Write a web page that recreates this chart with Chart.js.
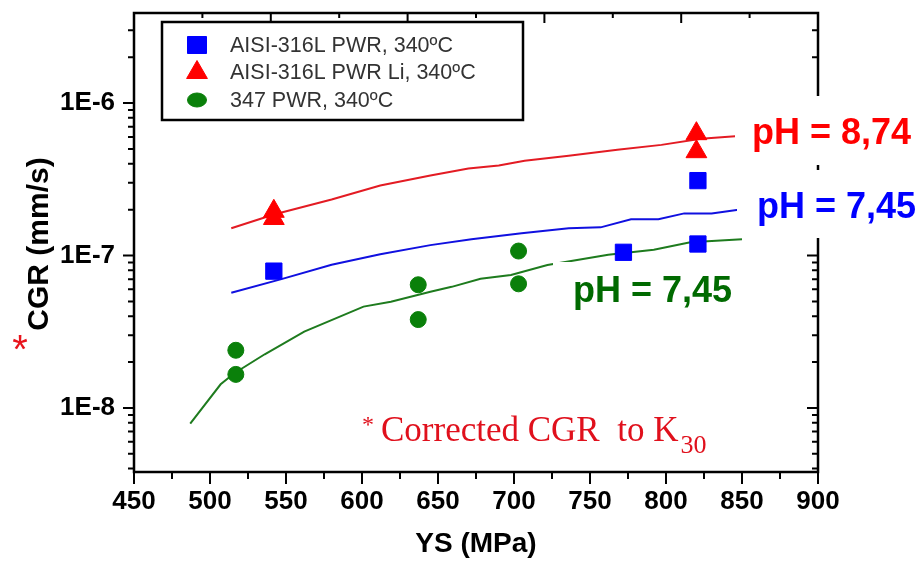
<!DOCTYPE html>
<html>
<head>
<meta charset="utf-8">
<script src="https://cdn.jsdelivr.net/npm/chart.js@4.4.1/dist/chart.umd.min.js"></script>
<style>
  html, body { margin: 0; padding: 0; background: #fff; }
  #wrap { width: 923px; height: 561px; }
</style>
</head>
<body>
<div id="wrap"><canvas id="chart" width="923" height="561"></canvas></div>
<script>
// fitted curves: YS (MPa) vs corrected CGR (mm/s)
const redLineX = [514, 542, 580, 612, 645, 670, 690, 707, 736, 768, 797, 823, 850];
const redLineY = [1.51e-7, 1.86e-7, 2.33e-7, 2.88e-7, 3.35e-7, 3.72e-7, 3.89e-7, 4.19e-7, 4.52e-7, 4.94e-7, 5.32e-7, 5.83e-7, 6.1e-7];

const blueLineX = [514, 547, 580, 612, 645, 672, 705, 736, 757, 777, 795, 812, 830, 850];
const blueLineY = [5.7e-8, 7.0e-8, 8.7e-8, 1.02e-7, 1.17e-7, 1.28e-7, 1.4e-7, 1.51e-7, 1.53e-7, 1.73e-7, 1.73e-7, 1.89e-7, 1.89e-7, 2.01e-7];

const greenLineX = [487, 507, 516, 536, 562, 601, 619, 645, 659, 678, 698, 722, 762, 792, 816, 850];
const greenLineY = [7.9e-9, 1.43e-8, 1.69e-8, 2.25e-8, 3.17e-8, 4.62e-8, 4.98e-8, 5.78e-8, 6.23e-8, 7.03e-8, 7.46e-8, 8.67e-8, 1.01e-7, 1.09e-7, 1.22e-7, 1.28e-7];

// measured points
const squareX = [542, 772, 821, 821];
const squareY = [7.9e-8, 1.05e-7, 1.19e-7, 3.1e-7];
const triangleX = [542, 542, 820, 820];
const triangleY = [1.95e-7, 1.75e-7, 6.3e-7, 4.8e-7];
const circleX = [517, 517, 637, 637, 703, 703];
const circleY = [2.39e-8, 1.66e-8, 6.43e-8, 3.8e-8, 1.07e-7, 6.52e-8];

const seriesNames = ["AISI-316L PWR, 340ºC", "AISI-316L PWR Li, 340ºC", "347 PWR, 340ºC"];
const yTickValues = [1e-8, 1e-7, 1e-6];
const topTickStep = 45;

const toPoints = (xs, ys) => xs.map((x, i) => ({ x: x, y: ys[i] }));
const FONT = "'Liberation Sans', Arial, sans-serif";
const SERIF = "'Liberation Serif', 'Times New Roman', serif";

Chart.defaults.font.family = FONT;
Chart.defaults.color = "#000";

const frame = {
  id: "frame",
  beforeDatasetsDraw(chart) {
    const { ctx, chartArea: a, scales: { x, y } } = chart;
    ctx.save();
    ctx.strokeStyle = "#000";
    ctx.lineWidth = 2.5;
    ctx.strokeRect(a.left, a.top, a.right - a.left, a.bottom - a.top);
    ctx.lineWidth = 2;
    ctx.beginPath();
    for (let v = 450; v <= 900; v += 25) {
      const px = x.getPixelForValue(v);
      const len = v % 50 === 0 ? 12 : 7;
      ctx.moveTo(px, a.bottom);
      ctx.lineTo(px, a.bottom + len);
    }
    for (let k = 1; k < 10; k++) {
      const px = x.getPixelForValue(450 + k * topTickStep);
      const len = k % 2 === 0 ? 10 : 5;
      ctx.moveTo(px, a.top);
      ctx.lineTo(px, a.top + len);
    }
    for (let e = -9; e <= -6; e++) {
      for (let m = 1; m <= 9; m++) {
        const v = m * Math.pow(10, e);
        if (v < y.min || v > y.max) continue;
        const py = y.getPixelForValue(v);
        const len = m === 1 ? 11 : 6;
        ctx.moveTo(a.left, py);
        ctx.lineTo(a.left - len, py);
        ctx.moveTo(a.right, py);
        ctx.lineTo(a.right - len, py);
      }
    }
    ctx.stroke();

    // axis title on the left, with the red asterisk
    ctx.fillStyle = "#000";
    ctx.font = "bold 30px " + FONT;
    ctx.textAlign = "center";
    ctx.textBaseline = "middle";
    ctx.translate(40, 244);
    ctx.rotate(-Math.PI / 2);
    ctx.fillText("CGR (mm/s)", 0, 0);
    ctx.setTransform(1, 0, 0, 1, 0, 0);
    ctx.fillStyle = "#e8141c";
    ctx.font = "40px " + FONT;
    ctx.fillText("*", 20, 352);

    // corrected note
    ctx.fillStyle = "#e0101c";
    ctx.textAlign = "left";
    ctx.textBaseline = "alphabetic";
    ctx.font = "24px " + SERIF;
    ctx.fillText("*", 362, 432);
    ctx.font = "35px " + SERIF;
    const note = "Corrected CGR  to K";
    ctx.fillText(note, 381, 441);
    const w = ctx.measureText(note).width;
    ctx.font = "26px " + SERIF;
    ctx.fillText("30", 381 + w + 2, 453);
    ctx.restore();
  },
  afterDatasetsDraw(chart) {
    const { ctx } = chart;
    ctx.save();
    const labels = [
      { text: "pH = 8,74", color: "#ff0000", box: [735, 96, 188, 69], x: 752, y: 134 },
      { text: "pH = 7,45", color: "#0000ff", box: [737, 170, 186, 68], x: 757, y: 208 },
      { text: "pH = 7,45", color: "#006a00", box: [553, 262, 187, 58], x: 573, y: 292 }
    ];
    labels.forEach((l) => {
      ctx.fillStyle = "#fff";
      ctx.fillRect(l.box[0], l.box[1], l.box[2], l.box[3]);
      ctx.fillStyle = l.color;
      ctx.font = "bold 36px " + FONT;
      ctx.textAlign = "left";
      ctx.textBaseline = "middle";
      ctx.fillText(l.text, l.x, l.y);
    });

    // legend box
    ctx.fillStyle = "#fff";
    ctx.fillRect(162, 22, 361, 98);
    ctx.strokeStyle = "#000";
    ctx.lineWidth = 2.5;
    ctx.strokeRect(162, 22, 361, 98);
    const marks = chart.data.datasets.filter((d) => d.isMarker);
    marks.forEach((d, i) => {
      const yy = 45 + i * 27.5;
      ctx.fillStyle = d.backgroundColor;
      ctx.strokeStyle = d.backgroundColor;
      ctx.lineWidth = 1;
      const opts = { pointStyle: d.pointStyle, radius: d.pointStyle === "circle" ? 7 : 12, rotation: 0, borderWidth: 1 };
      Chart.helpers.drawPointLegend(ctx, opts, 197, yy, d.pointStyle === "triangle" ? 0 : 19);
      ctx.fillStyle = "#333";
      ctx.font = "21.5px " + FONT;
      ctx.textAlign = "left";
      ctx.textBaseline = "middle";
      ctx.fillText(d.label, 230, yy + 1);
    });
    ctx.restore();
  }
};

const lineSet = (xs, ys, color) => ({
  data: toPoints(xs, ys),
  showLine: true,
  borderColor: color,
  borderWidth: 2,
  pointRadius: 0,
  fill: false,
  order: 2
});

const markSet = (label, xs, ys, color, style, r) => ({
  label: label,
  isMarker: true,
  data: toPoints(xs, ys),
  showLine: false,
  pointStyle: style,
  pointRadius: r,
  backgroundColor: color,
  borderColor: color,
  borderWidth: 1,
  order: 1
});

new Chart(document.getElementById("chart"), {
  type: "scatter",
  data: {
    datasets: [
      markSet(seriesNames[0], squareX, squareY, "#0000ff", "rect", 11.5),
      markSet(seriesNames[1], triangleX, triangleY, "#ff0000", "triangle", 12),
      markSet(seriesNames[2], circleX, circleY, "#0a800a", "circle", 8),
      lineSet(redLineX, redLineY, "#e31b23"),
      lineSet(blueLineX, blueLineY, "#1010e0"),
      lineSet(greenLineX, greenLineY, "#1e7b1e")
    ]
  },
  options: {
    responsive: false,
    animation: false,
    devicePixelRatio: 1,
    layout: { padding: { top: 10, right: 105, left: 0, bottom: 0 } },
    plugins: { legend: { display: false }, tooltip: { enabled: false } },
    scales: {
      x: {
        type: "linear",
        min: 450,
        max: 900,
        grid: { display: false, drawTicks: false },
        border: { display: false },
        ticks: {
          stepSize: 50,
          autoSkip: false,
          maxRotation: 0,
          padding: 14,
          color: "#000",
          font: { size: 26, weight: "bold" }
        },
        title: {
          display: true,
          text: "YS (MPa)",
          color: "#000",
          font: { size: 28, weight: "bold" },
          padding: { top: 4, bottom: 0 }
        },
        afterFit(scale) {
          scale.height = 89;
          scale.paddingLeft = 0;
          scale.paddingRight = 0;
        }
      },
      y: {
        type: "logarithmic",
        min: 3.8e-9,
        max: 3.9e-6,
        grid: { display: false, drawTicks: false },
        border: { display: false },
        afterBuildTicks(scale) {
          scale.ticks = yTickValues.map((v) => ({ value: v, major: true }));
        },
        ticks: {
          padding: 19,
          color: "#000",
          font: { size: 26, weight: "bold" },
          callback: (v) => "1E" + Math.round(Math.log10(v))
        },
        afterFit(scale) {
          scale.width = 134;
          scale.paddingTop = 0;
          scale.paddingBottom = 0;
        }
      }
    }
  },
  plugins: [frame]
});
</script>
</body>
</html>
